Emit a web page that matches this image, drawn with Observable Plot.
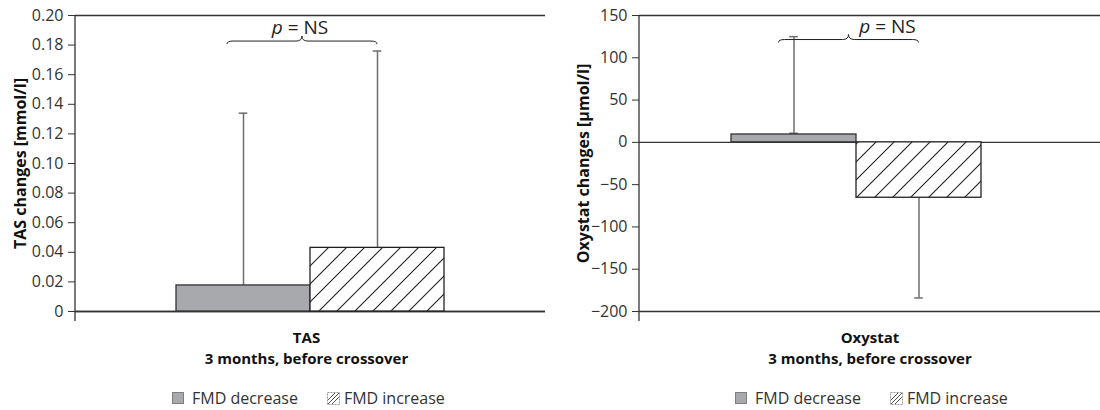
<!DOCTYPE html>
<html><head><meta charset="utf-8">
<script src="https://cdn.jsdelivr.net/npm/d3@7"></script>
<script src="https://cdn.jsdelivr.net/npm/@observablehq/plot@0.6"></script>
<style>
body{margin:0;background:#fff;font-family:'Open Sans',sans-serif;}
#wrap{position:relative;width:1100px;height:410px;overflow:hidden;background:#fff;}
.panel{position:absolute;top:0;width:550px;}
.legend{height:26px;display:flex;align-items:center;font-size:16px;color:#333;white-space:nowrap;}
.legend .item{display:flex;align-items:center;}
.legend svg{display:block;}
</style></head><body>
<div id="wrap"><div class="panel" id="left" style="left:0"></div><div class="panel" id="right" style="left:550px"></div></div>
<script>
// ---- data ----
const groups = ["FMD decrease", "FMD increase"];
const tasMeans = [0.0176, 0.043];
const tasErrEnds = [0.134, 0.176];
const oxyMeans = [9.3, -65.5];
const oxyErrEnds = [125, -184];
const oxyLowCaps = [10.8];
const tasTicks = [0, 0.02, 0.04, 0.06, 0.08, 0.10, 0.12, 0.14, 0.16, 0.18, 0.20];
const tasTickLabels = ["0", "0.02", "0.04", "0.06", "0.08", "0.10", "0.12", "0.14", "0.16", "0.18", "0.20"];
const oxyTicks = [-200, -150, -100, -50, 0, 50, 100, 150];
const oxyTickLabels = ["\u2212200", "\u2212150", "\u2212100", "\u221250", "0", "50", "100", "150"];
const tasYLabel = "TAS changes [mmol/l]";
const oxyYLabel = "Oxystat changes [\u00b5mol/l]";
const tasXLabel = ["TAS", "3 months, before crossover"];
const oxyXLabel = ["Oxystat", "3 months, before crossover"];
const pValueText = "NS";
const tasBraceLevel = [0.1824];
const oxyBraceLevel = [121];

const GRAY = "#a7a9ac";
const LINE = "#333";
const ERR = "#6d6e71";

function decor(cfg) {
  return (index, scales, values, dims) => {
    const x = scales.x, y = scales.y;
    const bw = x.bandwidth();
    const g = d3.create("svg:g");
    const defs = g.append("defs");
    const pat = defs.append("pattern").attr("id", cfg.pid).attr("patternUnits", "userSpaceOnUse")
      .attr("width", 18).attr("height", 18);
    pat.append("rect").attr("width", 18).attr("height", 18).attr("fill", "#fff");
    pat.append("path").attr("d", "M-3,3 L3,-3 M0,18 L18,0 M15,21 L21,15")
      .attr("stroke", "#222").attr("stroke-width", 1.1);
    // y axis line (extends a little below the plot)
    g.append("line").attr("x1", dims.marginLeft).attr("x2", dims.marginLeft)
      .attr("y1", dims.marginTop).attr("y2", dims.height - dims.marginBottom + 10)
      .attr("stroke", LINE).attr("stroke-width", 1.3);
    // brace
    const x1 = x(groups[0]) + 0.38 * bw, x2 = x(groups[1]) + 0.5 * bw, xm = (x1 + x2) / 2;
    const yb = y(cfg.brace[0]);
    const d = `M${x1},${yb + 3} Q${x1},${yb} ${x1 + 6},${yb} L${xm - 6},${yb} Q${xm},${yb} ${xm},${yb - 5}` +
      ` Q${xm},${yb} ${xm + 6},${yb} L${x2 - 6},${yb} Q${x2},${yb} ${x2},${yb + 3}`;
    g.append("path").attr("d", d).attr("fill", "none").attr("stroke", "#222").attr("stroke-width", 1);
    const t = g.append("text").attr("x", xm + cfg.textDx).attr("y", yb - 7)
      .attr("text-anchor", "middle").attr("font-size", 19).attr("fill", "#222");
    t.append("tspan").attr("font-style", "italic").text("p");
    t.append("tspan").text(" = " + pValueText);
    return g.node();
  };
}

function chart(o) {
  const data = groups.map((gr, i) => ({g: gr, v: o.means[i], e: o.errs[i]}));
  const caps = data.map(d => ({g: d.g, v: d.e})).concat(o.lowCaps.map((v, i) => ({g: groups[i], v})));
  return Plot.plot({
    width: 550, height: 385,
    marginLeft: o.ml, marginRight: o.mr, marginTop: 15, marginBottom: 74,
    style: {fontFamily: "'Open Sans', sans-serif", fontSize: "16px", color: "#333", background: "transparent", overflow: "visible"},
    x: {domain: groups, paddingInner: 0, paddingOuter: o.po, align: o.align, axis: null},
    y: {domain: o.domain, ticks: o.ticks, tickFormat: v => o.tickLabels[o.ticks.indexOf(v)], tickSize: 7, tickPadding: 5, label: null},
    marks: [
      Plot.ruleY([o.domain[1]], {stroke: LINE, strokeWidth: 1.3}),
      Plot.ruleY([o.domain[0]], {stroke: LINE, strokeWidth: 1.3}),
      Plot.ruleY([0], {stroke: LINE, strokeWidth: 1.3}),
      Plot.ruleX(data, {x: "g", y1: "v", y2: "e", stroke: ERR, strokeWidth: 1.5}),
      Plot.tickY(caps, {x: "g", y: "v", stroke: ERR, strokeWidth: 1.5, insetLeft: o.capInset, insetRight: o.capInset}),
      Plot.barY([data[0]], {x: "g", y: "v", fill: GRAY, stroke: LINE, strokeWidth: 1.3}),
      Plot.barY([data[1]], {x: "g", y: "v", fill: `url(#${o.pid})`, stroke: "#222", strokeWidth: 1.3}),
      Plot.text([o.ylabel], {frameAnchor: "left", textAnchor: "middle", rotate: -90, dx: o.ylabelDx, fontWeight: "bold", fontSize: 16, fill: "#111"}),
      Plot.text([o.xlabel.join("\n")], {frameAnchor: "bottom", textAnchor: "middle", lineAnchor: "top", dy: 17, dx: o.xlabelDx, lineHeight: 1.4, fontWeight: "bold", fontSize: 15, fill: "#111"}),
      decor({pid: o.pid, brace: o.brace, textDx: o.textDx})
    ]
  });
}

function legend(padLeft) {
  const div = document.createElement("div");
  div.className = "legend";
  div.style.paddingLeft = padLeft + "px";
  div.innerHTML =
    `<span class="item"><svg width="12" height="12"><rect x="0.5" y="0.5" width="11" height="11" fill="${GRAY}" stroke="#808080"/></svg>` +
    `<span style="margin-left:8px">${groups[0]}</span></span>` +
    `<span class="item" style="margin-left:29px"><svg width="13" height="13"><rect x="0.5" y="0.5" width="12" height="12" fill="#fff" stroke="#999" stroke-dasharray="2,1"/>` +
    `<path d="M1,8 L8,1 M1,12 L12,1 M5,12 L12,5" stroke="#555" stroke-width="1"/></svg>` +
    `<span style="margin-left:4px">${groups[1]}</span></span>`;
  return div;
}

const left = chart({
  means: tasMeans, errs: tasErrEnds, lowCaps: [], domain: [0, 0.2], ticks: tasTicks, tickLabels: tasTickLabels,
  ml: 75, mr: 5, po: 0.747, align: 0.5, capInset: 62.7, pid: "hatchTAS",
  ylabel: tasYLabel, ylabelDx: -55, xlabel: tasXLabel, xlabelDx: -4, brace: tasBraceLevel, textDx: -2
});
const right = chart({
  means: oxyMeans, errs: oxyErrEnds, lowCaps: oxyLowCaps, domain: [-200, 150], ticks: oxyTicks, tickLabels: oxyTickLabels,
  ml: 89, mr: 0, po: 0.838, align: 0.436, capInset: 58.2, pid: "hatchOXY",
  ylabel: oxyYLabel, ylabelDx: -56, xlabel: oxyXLabel, xlabelDx: 0, brace: oxyBraceLevel, textDx: 39
});
document.getElementById("left").append(left, legend(172));
document.getElementById("right").append(right, legend(185));
</script>
</body></html>
